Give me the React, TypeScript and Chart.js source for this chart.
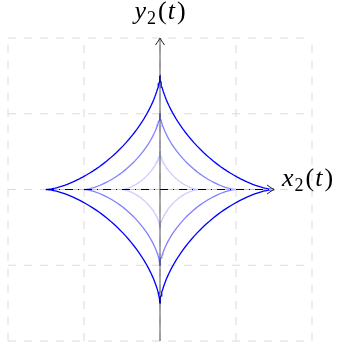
import React, { useEffect, useRef } from "react";
import { Chart, registerables } from "chart.js";

Chart.register(...registerables);

// Astroid radii: x = a·cos³t, y = a·sin³t
const RADII = [0.5, 1.0, 1.5];
const COLORS = ["#ccccff", "#8080ff", "#0000ff"];
const SAMPLES = 240;

// Grid positions and axis extents (data units)
const GRID_TICKS = [-2, -1, 0, 1, 2];
const X_AXIS_RANGE = [-1.5, 1.5];
const Y_AXIS_RANGE = [-2, 2];

const X_LABEL = ["x", "2", "t"];
const Y_LABEL = ["y", "2", "t"];

const SERIF = '"Liberation Serif", "Times New Roman", "DejaVu Serif", serif';

function astroid(a: number) {
  const pts: { x: number; y: number }[] = [];
  for (let i = 0; i <= SAMPLES; i++) {
    const t = (2 * Math.PI * i) / SAMPLES;
    pts.push({ x: a * Math.pow(Math.cos(t), 3), y: a * Math.pow(Math.sin(t), 3) });
  }
  return pts;
}

function drawArrowHead(ctx: CanvasRenderingContext2D, x: number, y: number, angle: number) {
  ctx.save();
  ctx.translate(x, y);
  ctx.rotate(angle);
  ctx.beginPath();
  ctx.moveTo(-7, -4.5);
  ctx.quadraticCurveTo(-2.5, -1.2, 0, 0);
  ctx.quadraticCurveTo(-2.5, 1.2, -7, 4.5);
  ctx.strokeStyle = "#222";
  ctx.lineWidth = 1;
  ctx.setLineDash([]);
  ctx.stroke();
  ctx.restore();
}

const gridPlugin = {
  id: "dashedGrid",
  beforeDatasetsDraw(chart: any) {
    const { ctx, scales } = chart;
    const xs = scales.x;
    const ys = scales.y;
    ctx.save();
    ctx.strokeStyle = "#dcdcdc";
    ctx.lineWidth = 1;
    ctx.setLineDash([8, 8]);
    const top = ys.getPixelForValue(GRID_TICKS[GRID_TICKS.length - 1]);
    const bottom = ys.getPixelForValue(GRID_TICKS[0]);
    const left = xs.getPixelForValue(GRID_TICKS[0]);
    const right = xs.getPixelForValue(GRID_TICKS[GRID_TICKS.length - 1]);
    for (const v of GRID_TICKS) {
      const px = xs.getPixelForValue(v);
      ctx.beginPath();
      ctx.moveTo(px, bottom);
      ctx.lineTo(px, top);
      ctx.stroke();
      const py = ys.getPixelForValue(v);
      ctx.beginPath();
      ctx.moveTo(left, py);
      ctx.lineTo(right, py);
      ctx.stroke();
    }
    ctx.restore();
  },
};

const axesPlugin = {
  id: "arrowAxes",
  afterDatasetsDraw(chart: any) {
    const { ctx, scales } = chart;
    const xs = scales.x;
    const ys = scales.y;
    const y0 = ys.getPixelForValue(0);
    const x0 = xs.getPixelForValue(0);
    const xa = xs.getPixelForValue(X_AXIS_RANGE[0]);
    const xb = xs.getPixelForValue(X_AXIS_RANGE[1]);
    const ya = ys.getPixelForValue(Y_AXIS_RANGE[0]);
    const yb = ys.getPixelForValue(Y_AXIS_RANGE[1]);
    ctx.save();
    // horizontal axis: faint base plus dash-dot stroke
    ctx.lineWidth = 1;
    ctx.strokeStyle = "#c8c8c8";
    ctx.beginPath();
    ctx.moveTo(xa, y0);
    ctx.lineTo(xb - 1, y0);
    ctx.stroke();
    ctx.strokeStyle = "#000";
    ctx.lineWidth = 1.2;
    ctx.setLineDash([8, 5, 1, 5]);
    ctx.beginPath();
    ctx.moveTo(xa, y0);
    ctx.lineTo(xb - 1, y0);
    ctx.stroke();
    ctx.setLineDash([]);
    drawArrowHead(ctx, xb, y0, 0);
    // vertical axis
    ctx.strokeStyle = "rgba(0,0,0,0.75)";
    ctx.lineWidth = 0.9;
    ctx.beginPath();
    ctx.moveTo(Math.round(x0), ya);
    ctx.lineTo(Math.round(x0), yb + 1);
    ctx.stroke();
    drawArrowHead(ctx, Math.round(x0), yb, -Math.PI / 2);
    ctx.restore();
  },
};

function MathLabel({ parts, style }: { parts: string[]; style: React.CSSProperties }) {
  return (
    <div
      style={{
        position: "absolute",
        font: `26px ${SERIF}`,
        lineHeight: "26px",
        whiteSpace: "nowrap",
        color: "#000",
        ...style,
      }}
    >
      <span style={{ fontStyle: "italic" }}>{parts[0]}</span>
      <span style={{ fontSize: 18, position: "relative", top: 5, marginLeft: 1 }}>{parts[1]}</span>
      <span style={{ marginLeft: 2 }}>(</span>
      <span style={{ fontStyle: "italic", marginLeft: 1 }}>{parts[2]}</span>
      <span style={{ marginLeft: 2 }}>)</span>
    </div>
  );
}

export default function App() {
  const ref = useRef<HTMLCanvasElement | null>(null);

  useEffect(() => {
    if (!ref.current) return;
    const chart = new Chart(ref.current, {
      type: "scatter",
      data: {
        datasets: RADII.map((a, i) => ({
          label: `a = ${a}`,
          data: astroid(a),
          showLine: true,
          borderColor: COLORS[i],
          borderWidth: 1.3,
          pointRadius: 0,
          tension: 0,
          fill: false,
        })),
      },
      options: {
        responsive: false,
        animation: false,
        events: [],
        layout: { padding: { left: 8, right: 26, top: 38, bottom: 8 } },
        plugins: { legend: { display: false }, tooltip: { enabled: false } },
        scales: {
          x: { type: "linear", min: -2, max: 2, display: false },
          y: { type: "linear", min: -2, max: 2, display: false },
        },
      },
      plugins: [gridPlugin, axesPlugin],
    });
    return () => chart.destroy();
  }, []);

  return (
    <div style={{ position: "fixed", left: 0, top: 0, width: 338, height: 349, background: "#fff", overflow: "hidden" }}>
      <canvas ref={ref} width={338} height={349} style={{ display: "block" }} />
      <MathLabel parts={Y_LABEL} style={{ left: 160, top: -2, transform: "translateX(-50%)" }} />
      <MathLabel parts={X_LABEL} style={{ left: 282, top: 165 }} />
    </div>
  );
}
